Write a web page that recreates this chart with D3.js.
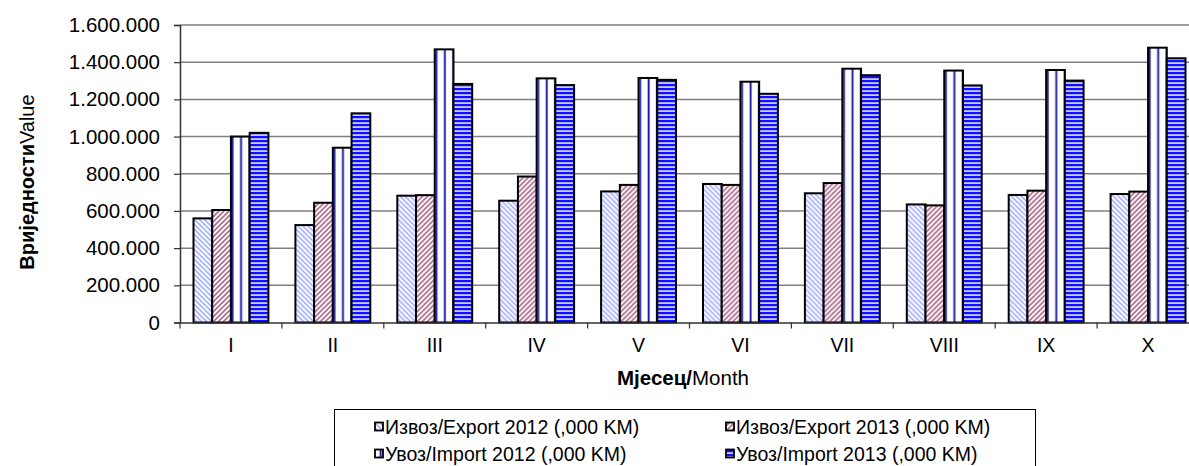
<!DOCTYPE html>
<html>
<head>
<meta charset="utf-8">
<script src="https://cdn.jsdelivr.net/npm/d3@7"></script>
<style>
  body { margin: 0; background: #fff; }
  svg { display: block; font-family: "Liberation Sans", Arial, sans-serif; }
</style>
</head>
<body>
<svg id="chart" width="1189" height="466"></svg>
<script>
// data
const months = ["I", "II", "III", "IV", "V", "VI", "VII", "VIII", "IX", "X"];
const export2012 = [560000, 524000, 682000, 655000, 705000, 745000, 695000, 635000, 686000, 691000];
const export2013 = [605000, 644000, 685000, 785000, 740000, 740000, 750000, 630000, 709000, 704000];
const import2012 = [1000000, 940000, 1469000, 1313000, 1315000, 1295000, 1365000, 1355000, 1358000, 1478000];
const import2013 = [1020000, 1125000, 1283000, 1277000, 1305000, 1230000, 1330000, 1275000, 1301000, 1421000];
const yTicks = [0, 200000, 400000, 600000, 800000, 1000000, 1200000, 1400000, 1600000];

const series = [
  { key: "e12", label: "Извоз/Export 2012 (,000 KM)", values: export2012 },
  { key: "e13", label: "Извоз/Export 2013 (,000 KM)", values: export2013 },
  { key: "i12", label: "Увоз/Import 2012 (,000 KM)", values: import2012 },
  { key: "i13", label: "Увоз/Import 2013 (,000 KM)", values: import2013 }
];

const svg = d3.select("#chart");
const plotLeft = 180, plotRight = 1199, plotTop = 25, plotBottom = 322.5;

// patterns
const defs = svg.append("defs");
let p = defs.append("pattern").attr("id", "p-e12").attr("patternUnits", "userSpaceOnUse")
  .attr("width", 5).attr("height", 5);
p.append("rect").attr("width", 5).attr("height", 5).attr("fill", "#fff");
p.append("path").attr("d", "M-1,-1L6,6M-1,4L1,6M4,-1L6,1").attr("stroke", "#a9b2ff").attr("stroke-width", 1.6);

p = defs.append("pattern").attr("id", "p-e13").attr("patternUnits", "userSpaceOnUse")
  .attr("width", 5).attr("height", 5);
p.append("rect").attr("width", 5).attr("height", 5).attr("fill", "#fff");
p.append("path").attr("d", "M-1,6L6,-1M-1,1L1,-1M4,6L6,4").attr("stroke", "#b06a8c").attr("stroke-width", 1.6);

p = defs.append("pattern").attr("id", "p-i12").attr("patternUnits", "userSpaceOnUse")
  .attr("width", 8.5).attr("height", 4);
p.append("rect").attr("width", 8.5).attr("height", 4).attr("fill", "#fff");
p.append("rect").attr("x", 0).attr("width", 3).attr("height", 4).attr("fill", "#c8ccf4");
p.append("rect").attr("x", 0.8).attr("width", 1.6).attr("height", 4).attr("fill", "#1a1a9a");

p = defs.append("pattern").attr("id", "p-i13").attr("patternUnits", "userSpaceOnUse")
  .attr("width", 4).attr("height", 4);
p.append("rect").attr("width", 4).attr("height", 4).attr("fill", "#c8ccff");
p.append("rect").attr("y", 0).attr("width", 4).attr("height", 2.2).attr("fill", "#1010ff");

// scales
const y = d3.scaleLinear().domain([0, 1600000]).range([plotBottom, plotTop]);
const x0 = d3.scaleBand().domain(months).range([plotLeft, plotRight]);
const x1 = d3.scaleBand().domain(series.map(s => s.key))
  .range([13.5, x0.bandwidth() - 13.5]);

const loc = d3.formatLocale({ decimal: ",", thousands: ".", grouping: [3], currency: ["", ""] });
const fmt = loc.format(",");

// gridlines
svg.append("g").selectAll("line")
  .data(yTicks.slice(1))
  .enter().append("line")
  .attr("x1", plotLeft).attr("x2", plotRight)
  .attr("y1", d => y(d)).attr("y2", d => y(d))
  .attr("stroke", "#808080").attr("stroke-width", 1.5);

// bars
const groups = svg.append("g").selectAll("g")
  .data(months)
  .enter().append("g")
  .attr("transform", d => "translate(" + x0(d) + ",0)");

groups.selectAll("rect")
  .data((m, i) => series.map(s => ({ key: s.key, v: s.values[i] })))
  .enter().append("rect")
  .attr("x", d => x1(d.key))
  .attr("width", x1.bandwidth())
  .attr("y", d => y(d.v))
  .attr("height", d => y(0) - y(d.v))
  .attr("fill", d => "url(#p-" + d.key + ")")
  .attr("stroke", "#000").attr("stroke-width", 2);

// y axis
const yAxis = svg.append("g")
  .attr("transform", "translate(" + plotLeft + ",0)")
  .call(d3.axisLeft(y).tickValues(yTicks).tickFormat(fmt).tickSize(6).tickPadding(14));
yAxis.select(".domain").attr("stroke", "#333").attr("stroke-width", 1.5);
yAxis.selectAll(".tick line").attr("stroke", "#333").attr("stroke-width", 1.2);
yAxis.selectAll("text").attr("font-size", 20.5).attr("fill", "#000")
  .attr("font-family", "Liberation Sans, Arial, sans-serif");

// x axis
const xAxis = svg.append("g")
  .attr("transform", "translate(0," + plotBottom + ")")
  .call(d3.axisBottom(x0).tickSize(0).tickPadding(16));
xAxis.select(".domain").attr("stroke", "#333").attr("stroke-width", 1.5);
xAxis.selectAll("text").attr("font-size", 19.5).attr("fill", "#000")
  .attr("font-family", "Liberation Sans, Arial, sans-serif");
xAxis.append("g").selectAll("line")
  .data(months)
  .enter().append("line")
  .attr("x1", d => x0(d)).attr("x2", d => x0(d))
  .attr("y1", 0).attr("y2", 6)
  .attr("stroke", "#333").attr("stroke-width", 1.2);

// axis titles
const xt = svg.append("text")
  .attr("x", 683).attr("y", 385)
  .attr("text-anchor", "middle").attr("font-size", 20.5);
xt.append("tspan").attr("font-weight", "bold").text("Мјесец/");
xt.append("tspan").text("Month");

const yt = svg.append("text")
  .attr("transform", "translate(34,182) rotate(-90)")
  .attr("text-anchor", "middle").attr("font-size", 20);
yt.append("tspan").attr("font-weight", "bold").text("Вриједности");
yt.append("tspan").text("Value");

// legend, two equal columns
svg.append("rect")
  .attr("x", 334.5).attr("y", 409.5).attr("width", 701).attr("height", 80)
  .attr("fill", "none").attr("stroke", "#000").attr("stroke-width", 1);

const legendPos = [[379, 427], [730, 427], [379, 454], [730, 454]];
const lg = svg.append("g").selectAll("g")
  .data(series)
  .enter().append("g")
  .attr("transform", (d, i) => "translate(" + legendPos[i][0] + "," + legendPos[i][1] + ")");
lg.append("rect")
  .attr("x", -4).attr("y", -4.5).attr("width", 8).attr("height", 8)
  .attr("fill", d => "url(#p-" + d.key + ")")
  .attr("stroke", "#000").attr("stroke-width", 1.8);
lg.append("text")
  .attr("x", 6).attr("y", 7)
  .attr("font-size", 19.5)
  .text(d => d.label);
</script>
</body>
</html>
